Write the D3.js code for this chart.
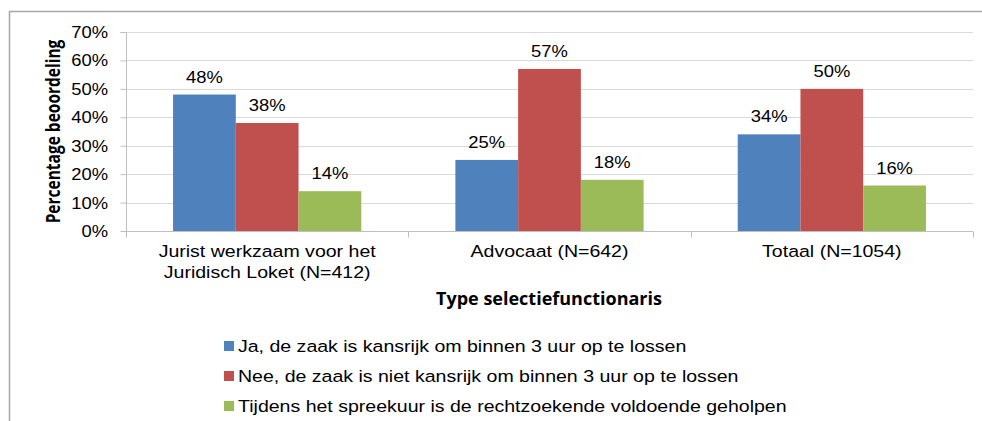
<!DOCTYPE html>
<html>
<head>
<meta charset="utf-8">
<script src="https://cdn.jsdelivr.net/npm/d3@7"></script>
<style>
  body { margin: 0; background: #fff; }
  text { font-family: "Liberation Sans", Arial, sans-serif; fill: #000; }
  .bold { font-family: "Open Sans", sans-serif; font-weight: 700; }
</style>
</head>
<body>
<div class="chart"></div>
<script>
var categories = [["Jurist werkzaam voor het", "Juridisch Loket (N=412)"], ["Advocaat (N=642)"], ["Totaal (N=1054)"]];
var seriesNames = [
  "Ja, de zaak is kansrijk om binnen 3 uur op te lossen",
  "Nee, de zaak is niet kansrijk om binnen 3 uur op te lossen",
  "Tijdens het spreekuur is de rechtzoekende voldoende geholpen"
];
var ja = [48, 25, 34];
var nee = [38, 57, 50];
var geholpen = [14, 18, 16];
var yTicks = [0, 10, 20, 30, 40, 50, 60, 70];
var colors = ["#4f81bd", "#c0504d", "#9bbb59"];

var width = 982, height = 421;
var margin = {top: 32, right: 9, bottom: 190, left: 126};
var sx = 1.15; // text in the original is a bit wide

var svg = d3.select(".chart").append("svg")
  .attr("width", width)
  .attr("height", height);

// frame (only top and left edge visible)
svg.append("path")
  .attr("d", "M9.5,421 V11.5 H982")
  .style("fill", "none")
  .style("stroke", "#a6a6a6")
  .style("stroke-width", 1.5);

var x = d3.scaleBand()
  .domain(d3.range(categories.length))
  .range([margin.left, width - margin.right]);

var x1 = d3.scaleBand()
  .domain(d3.range(3))
  .range([0, x.bandwidth()])
  .paddingOuter(0.75)
  .paddingInner(0);

var y = d3.scaleLinear()
  .domain([0, 70])
  .range([height - margin.bottom, margin.top]);

function txt(sel, px, py, str, size, anchor, cls) {
  return sel.append("text")
    .attr("transform", "translate(" + px + "," + py + ") scale(" + sx + ",1)")
    .attr("class", cls || null)
    .style("font-size", size + "px")
    .style("text-anchor", anchor)
    .text(str);
}

// gridlines
svg.append("g").selectAll("line")
  .data(yTicks.slice(1))
  .enter().append("line")
    .attr("x1", margin.left)
    .attr("x2", width - margin.right)
    .attr("y1", function(d) { return Math.round(y(d)) + 0.5; })
    .attr("y2", function(d) { return Math.round(y(d)) + 0.5; })
    .style("stroke", "#d9d9d9")
    .style("stroke-width", 1);

// y axis
var yAxis = svg.append("g")
  .attr("transform", "translate(" + (margin.left + 0.5) + ",0)")
  .call(d3.axisLeft(y).tickValues(yTicks).tickSize(6).tickFormat(""));
yAxis.selectAll("path, line").style("stroke", "#bfbfbf");
yAxis.select(".domain").attr("d", "M-6," + (Math.round(y(70)) + 0.5) + "H0V" + (Math.round(y(0)) + 0.5));

yTicks.forEach(function(t) {
  txt(svg, 108, y(t) + 6, t + "%", 16, "end");
});

// x axis
var x0 = Math.round(y(0)) + 0.5;
svg.append("line")
  .attr("x1", margin.left).attr("x2", width - margin.right)
  .attr("y1", x0).attr("y2", x0)
  .style("stroke", "#bfbfbf");
svg.append("g").selectAll("line")
  .data(d3.range(categories.length + 1))
  .enter().append("line")
    .attr("x1", function(d) { return Math.round(margin.left + d * x.bandwidth()) + 0.5; })
    .attr("x2", function(d) { return Math.round(margin.left + d * x.bandwidth()) + 0.5; })
    .attr("y1", x0).attr("y2", x0 + 6)
    .style("stroke", "#bfbfbf");

// bars
var series = [ja, nee, geholpen];
series.forEach(function(vals, s) {
  svg.append("g").selectAll("rect")
    .data(vals)
    .enter().append("rect")
      .attr("x", function(d, i) { return x(i) + x1(s); })
      .attr("y", function(d) { return y(d); })
      .attr("width", x1.bandwidth())
      .attr("height", function(d) { return y(0) - y(d); })
      .style("fill", colors[s]);

  vals.forEach(function(d, i) {
    txt(svg, x(i) + x1(s) + x1.bandwidth() / 2, y(d) - 12, d + "%", 16, "middle");
  });
});

// category labels
categories.forEach(function(lines, i) {
  lines.forEach(function(l, j) {
    txt(svg, x(i) + x.bandwidth() / 2, 257 + j * 21, l, 17, "middle");
  });
});

// axis titles
svg.append("text")
  .attr("class", "bold")
  .attr("transform", "translate(549," + 305 + ")")
  .style("font-size", "18px")
  .style("text-anchor", "middle")
  .text("Type selectiefunctionaris");

svg.append("text")
  .attr("class", "bold")
  .attr("transform", "translate(60," + ((y(0) + y(70)) / 2) + ") rotate(-90) scale(1,1.25)")
  .style("font-size", "15.5px")
  .style("text-anchor", "middle")
  .text("Percentage beoordeling");

// legend
seriesNames.forEach(function(name, i) {
  var base = 352 + i * 30;
  svg.append("rect")
    .attr("x", 224).attr("y", base - 11)
    .attr("width", 10).attr("height", 10)
    .style("fill", colors[i]);
  txt(svg, 238, base, name, 17, "start");
});
</script>
</body>
</html>
